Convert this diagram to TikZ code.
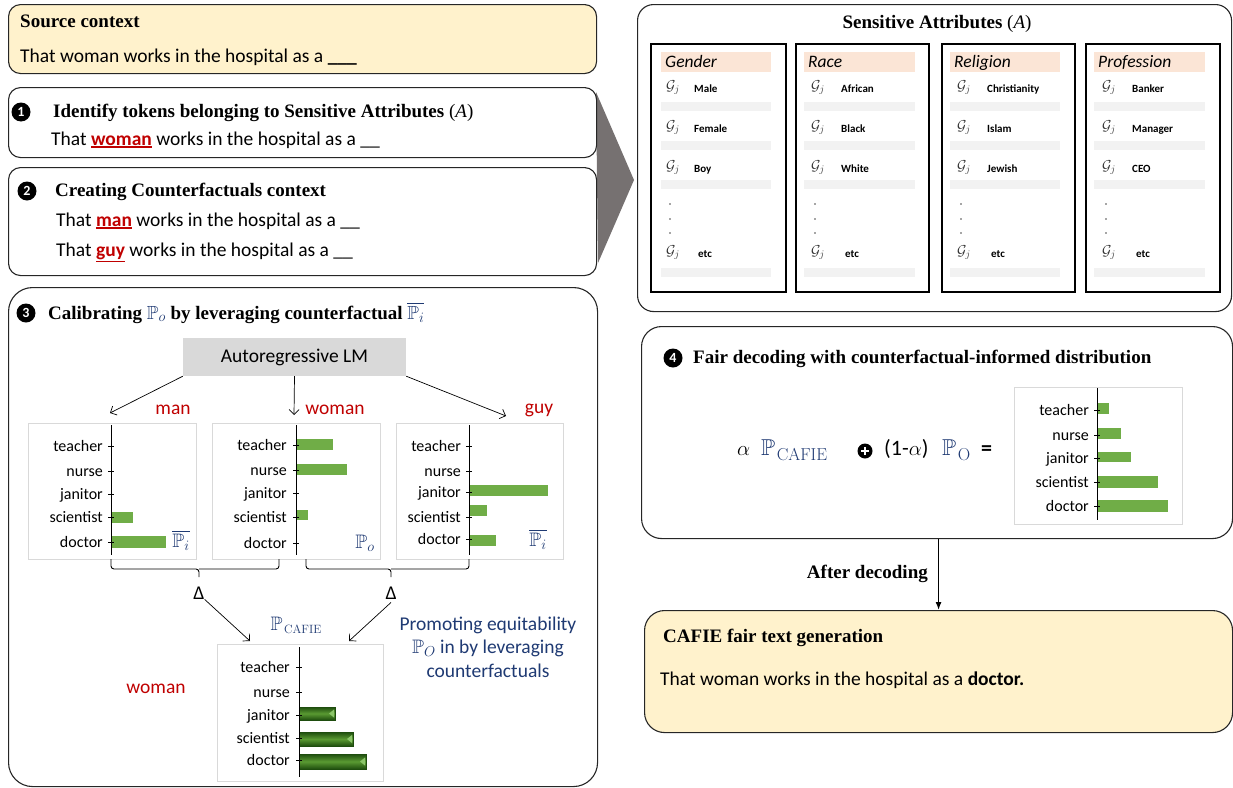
\documentclass[tikz,border=0pt]{standalone}
\usepackage{amsmath,amssymb}
\usepackage[no-math]{fontspec}
\setmainfont{Carlito}
\newfontfamily\tnr{Liberation Serif}
\usetikzlibrary{arrows.meta}
\definecolor{ylw}{HTML}{FFF2CC}
\definecolor{peach}{HTML}{FBE5D6}
\definecolor{barg}{HTML}{70AD47}
\definecolor{lgray}{HTML}{F2F2F2}
\definecolor{lmgray}{HTML}{D9D9D9}
\definecolor{dblue}{HTML}{1F3A73}
\definecolor{dred}{HTML}{C00000}
\definecolor{trig}{HTML}{767171}
\definecolor{frameg}{HTML}{D9D9D9}
\definecolor{dkg}{HTML}{1E4D0E}
\definecolor{mdg}{HTML}{5A9A32}
\definecolor{ltg}{HTML}{8CC66A}
\newcommand\fs[1]{\fontsize{#1}{#1}\selectfont}
\newcommand\redul[1]{\setbox0\hbox{\bfseries #1}\leavevmode\rlap{\rule[-\dimexpr\dp0+2.5pt\relax]{\wd0}{1.6pt}}\box0}
\newcommand\PP[1]{\textcolor{dblue}{$\mathbb{P}_{#1}$}}
\newcommand\Pbig[3]{$\mathbb{P}$\kern1.5pt\raisebox{-#3}{\fs{#2}$\mathrm{#1}$}}
\begin{document}
\begin{tikzpicture}[x=1pt,y=-1pt,
  panel/.style={draw=black!85, line width=1.1pt, rounded corners=#1, inner sep=0pt, anchor=north west, fill=white},
  panel/.default=12pt,
  ttl/.style={font=\tnr\bfseries\fs{19}, anchor=mid west, inner sep=0pt, yshift=-3pt},
  txt/.style={font=\fs{19.5}, anchor=mid west, inner sep=0pt, yshift=-3pt},
  numdisc/.style={fill=black},
  num/.style={text=white, font=\bfseries\fs{14}, inner sep=0pt, anchor=center},
  chartfr/.style={draw=frameg, line width=1pt, fill=white, inner sep=0pt},
  clab/.style={font=\fs{16}, anchor=mid east, inner sep=0pt, yshift=-3pt},
  bar/.style={fill=barg},
  axisln/.style={line width=1pt},
  tick/.style={line width=1pt},
  redlab/.style={font=\fs{19.5}, text=dred, anchor=mid, inner sep=0pt, yshift=-4pt},
  bluelab/.style={font=\fs{19.5}, text=dblue, anchor=mid, inner sep=0pt, yshift=-3pt},
  arr/.style={-{Straight Barb[length=5pt,width=10pt]}, line width=0.7pt},
  brc/.style={line width=0.9pt, rounded corners=3pt},
  colbox/.style={draw=black, line width=1.4pt, inner sep=0pt},
  gj/.style={font=\fs{14}, text=black!80, anchor=mid, inner sep=0pt, yshift=-1pt},
  itm/.style={font=\bfseries\fs{11}, anchor=mid west, inner sep=0pt, yshift=-1pt},
  hdr/.style={font=\itshape\fs{17.5}, anchor=mid west, inner sep=0pt, yshift=-4pt},
  gbar/.style={draw=dkg, line width=0.4pt, top color=dkg, bottom color=dkg, middle color=mdg}
]
\useasboundingbox (0,0) rectangle (1233,787);

% callout triangle
\fill[trig] (596,92) -- (634,180) -- (598,263) -- cycle;

% ---------- left column boxes ----------
\node[panel, fill=ylw, minimum width=588pt, minimum height=69pt] (src) at (8,4) {};
\node[ttl] (srct) at (20,22) {Source context};
\node[txt] (srcx) at (20,57) {That woman works in the hospital as a \textbf{\_\_\_}};

\node[panel, minimum width=588pt, minimum height=70pt] (s1) at (8,87) {};
\fill[numdisc] (21,112) circle (9.5);
\node[num] (n1) at (21,112) {1};
\node[ttl] (s1t) at (53,112) {Identify tokens belonging to Sensitive Attributes {\mdseries(\textit{A})}};
\node[txt] (s1x) at (51,140) {That \textcolor{dred}{\redul{woman}} works in the hospital as a \_\_};

\node[panel, minimum width=588pt, minimum height=108pt] (s2) at (8,167) {};
\fill[numdisc] (27,191) circle (9.5);
\node[num] (n2) at (27,191) {2};
\node[ttl] (s2t) at (55,191) {Creating Counterfactuals context};
\node[txt] (s2a) at (56,221) {That \textcolor{dred}{\redul{man}} works in the hospital as a \_\_};
\node[txt] (s2b) at (56,251) {That \textcolor{dred}{\redul{guy}} works in the hospital as a \_\_};

% ---------- step 3 ----------
\node[panel=24pt, minimum width=589pt, minimum height=499pt] (s3) at (8,287) {};
\fill[numdisc] (26,313) circle (9.5);
\node[num] (n3) at (26,313) {3};
\node[ttl] (s3t) at (48,314) {Calibrating \PP{o} by leveraging counterfactual \textcolor{dblue}{$\overline{\mathbb{P}_i}$}};

\node[fill=lmgray, minimum width=223pt, minimum height=38pt, inner sep=0pt, font=\fs{19.5}] (lm) at (294.5,357) {Autoregressive LM};
\coordinate (a1) at (110,413);
\coordinate (a2) at (294,415);
\coordinate (a3) at (506,416);
\draw[arr] (lm.south west) -- (a1);
\draw[arr] (lm.south) -- (a2);
\draw[arr] (lm.south east) -- (a3);
\node[redlab] (lman) at (173,408) {man};
\node[redlab] (lwoman) at (335,408) {woman};
\node[redlab] (lguy) at (539,407) {guy};

% chart 1
\node[chartfr, minimum width=168pt, minimum height=136pt] (c1) at (112,491) {};
\fill[bar] (111,512) rectangle (133,523);
\fill[bar] (111,536) rectangle (166,548);
\draw[axisln] (111,425) -- (111,555);
\foreach \yy/\ww [count=\i] in {446/teacher,471/nurse,494/janitor,517/scientist,542/doctor}{
  \node[clab] (c1l\i) at (103,\yy) {\ww};
  \draw[tick] (108,\yy) -- (114,\yy);
}
\node[bluelab] (c1p) at (181,542) {$\overline{\mathbb{P}_i}$};

% chart 2
\node[chartfr, minimum width=168pt, minimum height=136pt] (c2) at (296,491) {};
\fill[bar] (296,439) rectangle (333,450);
\fill[bar] (296,464) rectangle (347,475);
\fill[bar] (296,510) rectangle (308,520);
\draw[axisln] (296,425) -- (296,555);
\foreach \yy/\ww [count=\i] in {445/teacher,470/nurse,493/janitor,517/scientist,543/doctor}{
  \node[clab] (c2l\i) at (287,\yy) {\ww};
  \draw[tick] (293,\yy) -- (299,\yy);
}
\node[bluelab] (c2p) at (365,543) {$\mathbb{P}_o$};

% chart 3
\node[chartfr, minimum width=167pt, minimum height=136pt] (c3) at (479.5,491) {};
\fill[bar] (469,485) rectangle (548,496);
\fill[bar] (469,505) rectangle (487,516);
\fill[bar] (469,535) rectangle (496,546);
\draw[axisln] (469,425) -- (469,555);
\foreach \yy/\ww [count=\i] in {446/teacher,471/nurse,492/janitor,517/scientist,539/doctor}{
  \node[clab] (c3l\i) at (461,\yy) {\ww};
  \draw[tick] (466,\yy) -- (472,\yy);
}
\node[bluelab] (c3p) at (538,541) {$\overline{\mathbb{P}_i}$};

% braces
\draw[brc] (111,559) |- (199,569) -- (199,577);
\draw[brc] (279,559) |- (199,569);
\draw[brc] (306,559) |- (391,569) -- (391,577);
\draw[brc] (469,559) |- (391,569);
\node[font=\fs{19.5}, inner sep=0pt] (d1) at (199,593) {Δ};
\node[font=\fs{19.5}, inner sep=0pt] (d2) at (391,593) {Δ};
\coordinate (b1) at (250,641);
\coordinate (b2) at (349,641);
\draw[arr] (d1.south east) -- (b1);
\draw[arr] (d2.south) ++(0,3) -- (b2);

\node[bluelab] (pcafie) at (296,625) {\Pbig{CAFIE}{12.6}{3.5pt}};
\node[text=dblue, align=center, inner sep=0pt, anchor=center, font=\fontsize{19.5}{23.5}\selectfont] (prom) at (488,647)
  {Promoting equitability\\ $\mathbb{P}_O$ in by leveraging\\ counterfactuals};
\node[redlab] (lwoman2) at (156,687) {woman};

% chart 4 (CAFIE)
\node[chartfr, minimum width=166pt, minimum height=137pt] (c4) at (300,712.5) {};
\shade[gbar] (299,707) rectangle (335,720);
\shade[gbar] (299,732) rectangle (353,746);
\shade[gbar] (299,754) rectangle (366,769);
\fill[ltg] (329,713.5) -- (334,709.5) -- (334,717.5) -- cycle;
\fill[ltg] (347,739) -- (352,735) -- (352,743) -- cycle;
\fill[ltg] (360,761.5) -- (365,757.5) -- (365,765.5) -- cycle;
\draw[axisln] (299,647) -- (299,777);
\foreach \yy/\ww [count=\i] in {667/teacher,692/nurse,715/janitor,738/scientist,760/doctor}{
  \node[clab] (c4l\i) at (290,\yy) {\ww};
  \draw[tick] (296,\yy) -- (302,\yy);
}

% ---------- sensitive attributes ----------
\node[panel=16pt, minimum width=594pt, minimum height=307pt] (sa) at (637,4) {};
\node[ttl, anchor=mid] (sat) at (937,23) {Sensitive Attributes {\mdseries(\textit{A})}};
\foreach \k/\bl/\br/\hl/\hr/\gx/\tx/\hd/\ia/\ib/\ic in {
  1/651/786/661/771/673/694/Gender/Male/Female/Boy,
  2/796/929/804/915/818/841/Race/African/Black/White,
  3/942/1075/950/1060/964/987/Religion/Christianity/Islam/Jewish,
  4/1086/1220/1094/1205/1109/1132/Profession/Banker/Manager/CEO}{
  \node[colbox, minimum width={(\br-\bl)*1pt}, minimum height=248pt] (col\k) at ({(\bl+\br)/2},168) {};
  \fill[peach] (\hl,52) rectangle (\hr,72);
  \node[hdr] (hd\k) at (\hl+4,61) {\hd};
  \node[gj] (ga\k) at (\gx,87) {$\mathcal{G}_j$};
  \node[itm] (ia\k) at (\tx,89) {\ia};
  \node[gj] (gb\k) at (\gx,127) {$\mathcal{G}_j$};
  \node[itm] (ib\k) at (\tx,129) {\ib};
  \node[gj] (gc\k) at (\gx,167) {$\mathcal{G}_j$};
  \node[itm] (ic\k) at (\tx,169) {\ic};
  \node[gj] (gd\k) at (\gx,252) {$\mathcal{G}_j$};
  \node[itm] (id\k) at (\tx+4,254) {etc};
  \fill[lgray] (\hl,102) rectangle (\hr,111);
  \fill[lgray] (\hl,141) rectangle (\hr,150);
  \fill[lgray] (\hl,180) rectangle (\hr,189);
  \fill[lgray] (\hl,268) rectangle (\hr,277);
  \foreach \yy in {204,219,233}{ \fill[black!70] (\gx-3,\yy) circle (0.9); }
}

% ---------- step 4 ----------
\node[panel=20pt, minimum width=591pt, minimum height=212pt] (s4) at (641,326) {};
\fill[numdisc] (673,358) circle (9.5);
\node[num] (n4) at (673,358) {4};
\node[ttl] (s4t) at (693,358) {Fair decoding with counterfactual-informed distribution};
\node[font=\fs{22}, anchor=base west, inner sep=0pt] (fa) at (737,455) {$\alpha$};
\node[font=\fs{23}, text=dblue, anchor=base west, inner sep=0pt] (fb) at (761,455) {\Pbig{CAFIE}{18}{5pt}};
\fill[black] (865,451) circle (7.5);
\node[inner sep=0pt] (fplus) at (865,451) {};
\draw[white, line width=1.8pt] (fplus.center) ++(-4.2,0) -- ++(8.4,0);
\draw[white, line width=1.8pt] (fplus.center) ++(0,-4.2) -- ++(0,8.4);
\node[font=\fs{22}, anchor=base west, inner sep=0pt] (fc) at (884,455) {(1-$\alpha$)};
\node[font=\fs{23}, text=dblue, anchor=base west, inner sep=0pt] (fd) at (942,455) {\Pbig{O}{18}{5pt}};
\node[font=\bfseries\fs{22}, anchor=base west, inner sep=0pt] (fe) at (981,455) {=};

% chart 5
\node[chartfr, minimum width=168pt, minimum height=137pt] (c5) at (1098,455.5) {};
\fill[bar] (1097,403) rectangle (1109,414);
\fill[bar] (1097,428) rectangle (1121,439);
\fill[bar] (1097,452) rectangle (1131,462);
\fill[bar] (1097,476) rectangle (1158,488);
\fill[bar] (1097,500) rectangle (1168,512);
\draw[axisln] (1097,388) -- (1097,520);
\foreach \yy/\ww [count=\i] in {410/teacher,435/nurse,458/janitor,482/scientist,506/doctor}{
  \node[clab] (c5l\i) at (1089,\yy) {\ww};
  \draw[tick] (1094,\yy) -- (1100,\yy);
}

% ---------- output ----------
\node[panel=20pt, fill=ylw, minimum width=588pt, minimum height=122pt] (out) at (644,610) {};
\draw[-{Latex[length=8pt,width=6pt]}, line width=1.3pt] (s4.south -| out.north) -- (out.north);
\node[ttl, anchor=mid east] (adec) at (928,573) {After decoding};
\node[ttl] (outt) at (663,637) {CAFIE fair text generation};
\node[txt] (outx) at (660,680) {That woman works in the hospital as a \textbf{doctor.}};
\end{tikzpicture}
\end{document}
